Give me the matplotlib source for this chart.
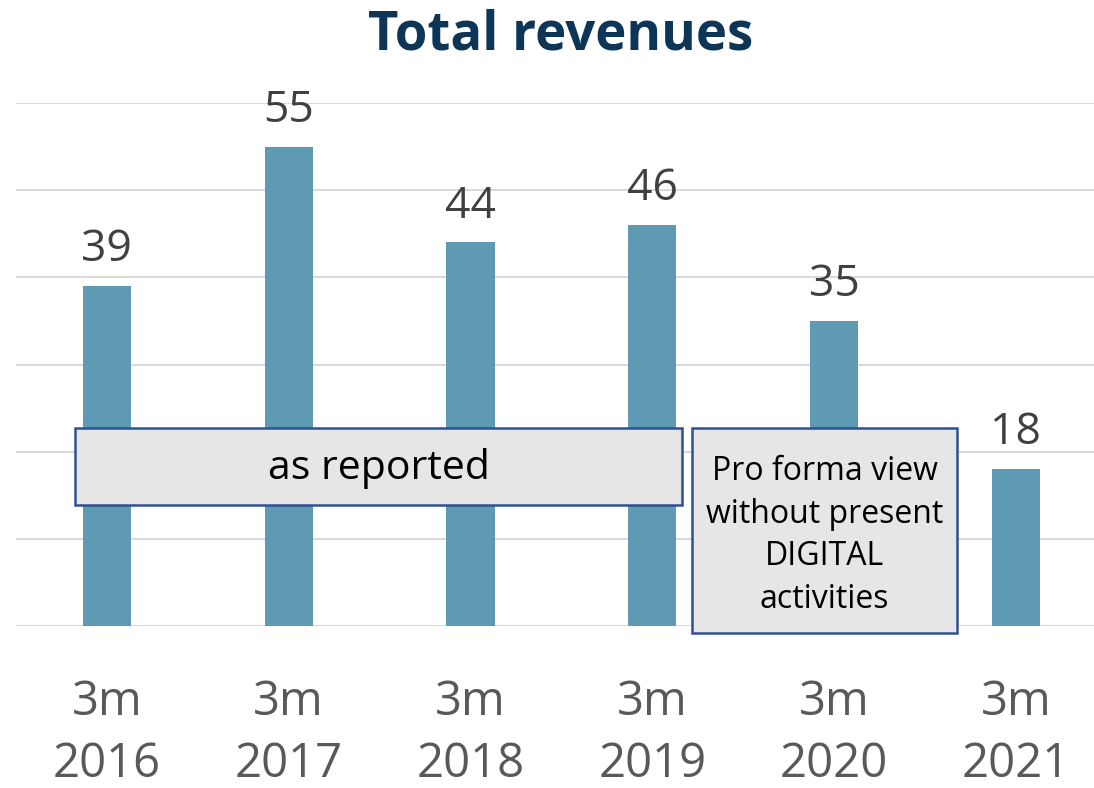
import matplotlib.pyplot as plt
import numpy as np
from matplotlib.patches import Rectangle

periods = ['3m\n2016', '3m\n2017', '3m\n2018', '3m\n2019', '3m\n2020', '3m\n2021']
revenues = [39, 55, 44, 46, 35, 18]

plt.rcParams['font.family'] = ['Open Sans', 'DejaVu Sans']

fig = plt.figure(figsize=(10.94, 7.88), dpi=100)
ax = fig.add_axes([16 / 1094, 1 - 626 / 788, 1078 / 1094, 523 / 788])

x = np.arange(len(periods))
ax.bar(x, revenues, width=0.265, color='#5F9AB5', zorder=2)

for xi, v in zip(x, revenues):
    ax.text(xi, v + 1.6, str(v), ha='center', va='bottom', fontsize=32,
            color='#404040')

ax.set_xlim(-0.5, 5.43)
ax.set_ylim(0, 60)
ax.set_yticks(np.arange(0, 61, 10))
ax.yaxis.grid(True, color='#D9D9D9', linewidth=1.5, zorder=0)
ax.set_yticklabels([])
ax.tick_params(left=False, bottom=False)
ax.set_xticks(x)
ax.set_xticklabels(periods, fontsize=34, color='#595959', linespacing=1.4)
ax.tick_params(axis='x', pad=34)
for s in ax.spines.values():
    s.set_visible(False)

# note boxes
ax.add_patch(Rectangle((-0.176, 13.9), 3.341, 8.8, facecolor='#E6E6E6',
                       edgecolor='#2F528F', linewidth=1.8, zorder=3, clip_on=False))
ax.text(1.495, 18.1, 'as reported', ha='center', va='center', fontsize=29.5,
        color='black', zorder=4)
ax.add_patch(Rectangle((3.22, -0.8), 1.456, 23.5, facecolor='#E6E6E6',
                       edgecolor='#2F528F', linewidth=1.8, zorder=3, clip_on=False))
ax.text(3.948, 10.4, 'Pro forma view\nwithout present\nDIGITAL\nactivities',
        ha='center', va='center', fontsize=23, color='black', linespacing=1.38,
        zorder=4)

fig.text(561 / 1094, 1 - 35 / 788, 'Total revenues', ha='center', va='center',
         fontsize=38, fontweight='bold', color='#0D3556')

fig.savefig('out.png', dpi=100)
